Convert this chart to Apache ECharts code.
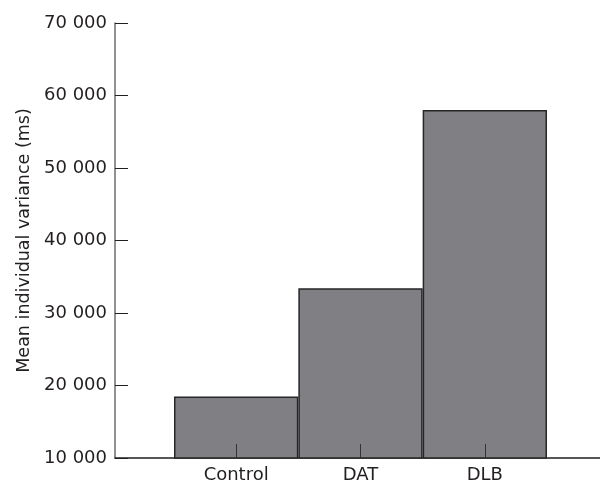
<!DOCTYPE html>
<html>
<head>
<meta charset="utf-8">
<script src="https://cdn.jsdelivr.net/npm/echarts@6/dist/echarts.min.js"></script>
<style>html,body{margin:0;padding:0;background:#fff;}#c{width:600px;height:484px;}</style>
</head>
<body>
<div id="c"></div>
<script>
const categories = ["Control", "DAT", "DLB"];
const values = [18500, 33400, 58000];
const yMin = 10000, yMax = 70000, yStep = 10000;
const yTitle = "Mean individual variance (ms)";

const font = "DejaVu Sans";
const chart = echarts.init(document.getElementById('c'), null, {renderer: 'canvas'});
chart.setOption({
  animation: false,
  backgroundColor: '#fff',
  grid: [
    {left: 115, right: 0, top: 23, bottom: 26},
    {left: 174, width: 373, top: 23, bottom: 26}
  ],
  xAxis: [
    {gridIndex: 0, type: 'category', data: [''], axisLine: {lineStyle: {color: '#231f20', width: 1.5}},
     axisTick: {show: false}, axisLabel: {show: false}, splitLine: {show: false}},
    {gridIndex: 1, type: 'category', data: categories, boundaryGap: true,
     axisLine: {show: false},
     axisTick: {show: true, inside: true, length: 14, alignWithLabel: true, lineStyle: {color: '#333', width: 1}},
     axisLabel: {color: '#231f20', fontFamily: font, fontSize: 18, margin: 8},
     splitLine: {show: false}, z: 10}
  ],
  yAxis: [
    {gridIndex: 0, type: 'value', min: yMin, max: yMax, interval: yStep,
     name: yTitle, nameLocation: 'middle', nameGap: 82, nameRotate: 90,
     nameTextStyle: {color: '#231f20', fontFamily: font, fontSize: 17.5},
     axisLine: {show: true, lineStyle: {color: '#6d6d6d', width: 1.5}},
     axisTick: {show: true, inside: true, length: 13, lineStyle: {color: '#231f20', width: 1}},
     axisLabel: {color: '#231f20', fontFamily: font, fontSize: 18, margin: 8,
       formatter: v => String(v).replace(/\B(?=(\d{3})+(?!\d))/g, ' ')},
     splitLine: {show: false}},
    {gridIndex: 1, type: 'value', min: yMin, max: yMax, interval: yStep, show: false, splitLine: {show: false}}
  ],
  series: [{
    type: 'bar', xAxisIndex: 1, yAxisIndex: 1, data: values,
    barCategoryGap: '0%', barWidth: '100%',
    itemStyle: {color: '#808084', borderColor: '#262626', borderWidth: 1.5},
    z: 2
  }]
});
</script>
</body>
</html>
